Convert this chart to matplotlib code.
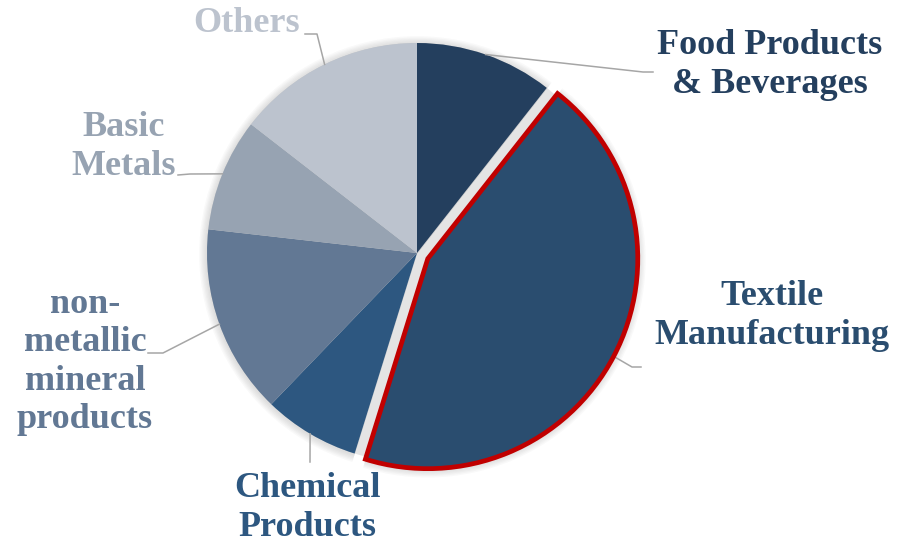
import numpy as np
import matplotlib.pyplot as plt

# Industry shares (%), clockwise from 12 o'clock
sectors = ['Food Products\n& Beverages', 'Textile\nManufacturing', 'Chemical\nProducts',
           'non-\nmetallic\nmineral\nproducts', 'Basic\nMetals', 'Others']
shares = [10.6, 44.2, 7.4, 14.6, 8.7, 14.5]

colors = ['#243f5e', '#2a4d6f', '#2d5780', '#627894', '#97a3b2', '#bcc3ce']

W, H = 905, 544
CX, CY, R = 417, 253, 210
# pie() takes explode as an absolute offset, so scale it by the radius
explode = [0, 0.058 * R, 0, 0, 0, 0]


def px(x, y):
    # pixel coords (origin top-left) -> data coords
    return x, H - y


# label text centre, elbow point, end point of the leader line (pixels)
label_pos = [(770, 65), (772, 316), (307, 508), (85, 362), (124, 147), (247, 23)]
elbows = [((643, 72), (653, 72)),
          ((632, 367), (641, 367)),
          ((310, 462), (310, 462)),
          ((163, 353), (148, 353)),
          ((190, 174), (178, 175)),
          ((317, 34), (305, 34))]

fig = plt.figure(figsize=(W / 100, H / 100), dpi=100)
ax = fig.add_axes([0, 0, 1, 1])

# soft shadow round the pie (also greys the gap left by the pulled-out slice)
ax.pie(shares, startangle=90, counterclock=False, center=px(CX, CY),
       radius=R, colors=['#e4e4e4'] * len(shares), wedgeprops=dict(linewidth=0))
for k in range(6, 0, -1):
    ax.pie(shares, explode=explode, startangle=90, counterclock=False,
           center=px(CX, CY + 1), radius=R + k * 1.3,
           colors=['#7f7f7f'] * len(shares),
           wedgeprops=dict(alpha=0.045, linewidth=0))

wedges, _ = ax.pie(shares, explode=explode, startangle=90, counterclock=False,
                   center=px(CX, CY), radius=R, colors=colors,
                   wedgeprops=dict(linewidth=0))
wedges[1].set_edgecolor('#c00000')
wedges[1].set_linewidth(3.4)
wedges[1].set_joinstyle('miter')
wedges[1].set_zorder(5)

# pie() resets the limits, so set them afterwards
ax.set_xlim(0, W)
ax.set_ylim(0, H)
ax.set_aspect('equal')
ax.axis('off')

for w, name, col, (tx, ty), (e1, e2) in zip(wedges, sectors, colors, label_pos, elbows):
    mid = np.deg2rad((w.theta1 + w.theta2) / 2)
    sx = w.center[0] + w.r * np.cos(mid)
    sy = w.center[1] + w.r * np.sin(mid)
    xs = [sx, px(*e1)[0], px(*e2)[0]]
    ys = [sy, px(*e1)[1], px(*e2)[1]]
    ax.plot(xs, ys, color='#a6a6a6', lw=1.1, zorder=1)
    ax.text(*px(tx, ty), name, ha='center', va='center', color=col,
            fontsize=26, fontweight='bold', family='Liberation Serif',
            linespacing=1.22)

fig.savefig('out.png', dpi=100)
